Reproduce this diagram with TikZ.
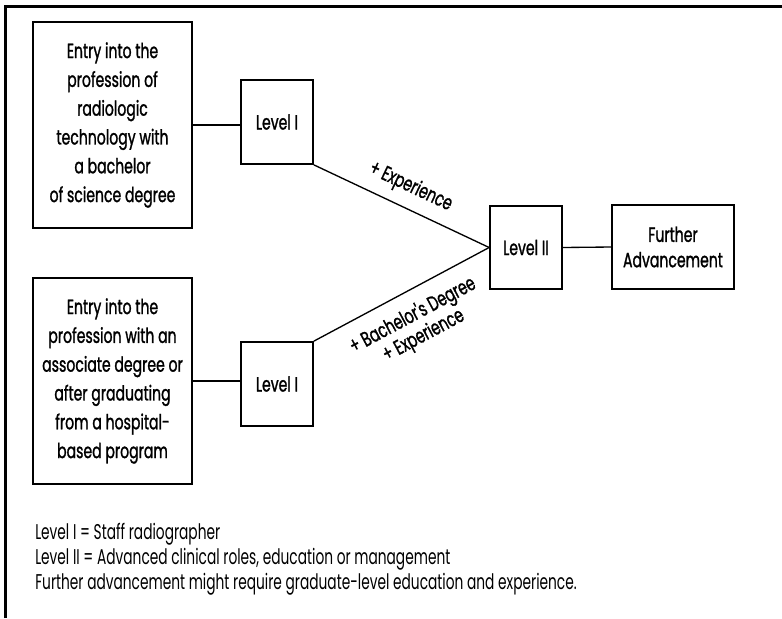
\documentclass[tikz,border=0pt]{standalone}
\usepackage{fontspec}
\setmainfont{Poppins}[FakeStretch=0.645]
\newfontfamily\boxfont{Poppins}[FakeStretch=0.68,FakeBold=1.2]
\begin{document}
\begin{tikzpicture}[x=0.75pt,y=-0.75pt,
  box/.style={draw,line width=1.3pt,align=center,inner sep=0pt,
    font=\boxfont\fontsize{15.5}{21.6}\selectfont},
  conn/.style={line width=1pt},
  lbl/.style={font=\boxfont\fontsize{15.5}{17}\selectfont,align=center,inner sep=2.5pt},
  legend/.style={anchor=base west,inner sep=0pt,font=\fontsize{16}{18}\selectfont}]
\useasboundingbox (0,0) rectangle (782,618);
\draw[line width=2.25pt] (5,618) -- (5,6) -- (782,6);
\node[box,minimum width=159*0.75pt,minimum height=206*0.75pt] (A1) at (112.5,125)
  {Entry into the\\profession of\\radiologic\\technology with\\a bachelor\\of science degree};
\node[box,minimum width=72*0.75pt,minimum height=84*0.75pt] (L1a) at (277,122) {Level I};
\node[box,minimum width=159*0.75pt,minimum height=206*0.75pt] (B1) at (112.5,381)
  {Entry into the\\profession with an\\associate degree or\\after graduating\\from a hospital-\\based program};
\node[box,minimum width=72*0.75pt,minimum height=84*0.75pt] (L1b) at (277,384) {Level I};
\node[box,minimum width=72*0.75pt,minimum height=83*0.75pt] (L2) at (526,247.5) {Level II};
\node[box,minimum width=122*0.75pt,minimum height=84*0.75pt,
  font=\boxfont\fontsize{15.5}{19}\selectfont] (FA) at (673,247) {Further\\Advancement};
\draw[conn] (A1.east) -- (A1.east -| L1a.west);
\draw[conn] (B1.east) -- (B1.east -| L1b.west);
\draw[conn] (L2.east) -- (FA.west);
\draw[conn] (L1a.south east) -- node[lbl,sloped,above=5pt,pos=0.5] (e1) {+ Experience} (L2.west);
\draw[conn] (L1b.north east) -- node[lbl,sloped,below=7pt,pos=0.5] (e2) {+ Bachelor's Degree\\+ Experience} (L2.west);
\node[legend] (g1) at (35,539) {Level I = Staff radiographer};
\node[legend] (g2) at (35,564) {Level II = Advanced clinical roles, education or management};
\node[legend] (g3) at (35,589) {Further advancement might require graduate-level education and experience.};
\end{tikzpicture}
\end{document}
